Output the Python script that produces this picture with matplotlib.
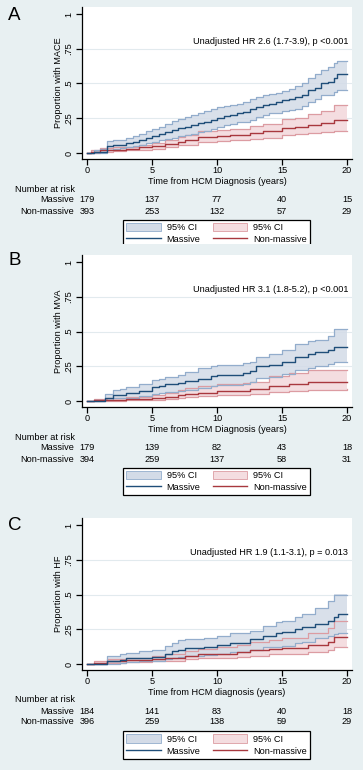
import matplotlib
matplotlib.use("Agg")
import matplotlib.pyplot as plt
from matplotlib.patches import Patch, Rectangle
from matplotlib.lines import Line2D
from matplotlib.transforms import blended_transform_factory
import numpy as np

plt.rcParams['font.family'] = ['Liberation Sans', 'DejaVu Sans']

# ---------------- DATA ----------------
panel_letters = ["A", "B", "C"]
y_labels = ["Proportion with MACE", "Proportion with MVA", "Proportion with HF"]
x_labels = ["Time from HCM Diagnosis (years)", "Time from HCM Diagnosis (years)",
            "Time from HCM diagnosis (years)"]
hr_texts = ["Unadjusted HR 2.6 (1.7-3.9), p <0.001",
            "Unadjusted HR 3.1 (1.8-5.2), p <0.001",
            "Unadjusted HR 1.9 (1.1-3.1), p = 0.013"]
risk_times = [0, 5, 10, 15, 20]
risk_massive = [[179, 137, 77, 40, 15], [179, 139, 82, 43, 18], [184, 141, 83, 40, 18]]
risk_nonmassive = [[393, 253, 132, 57, 29], [394, 259, 137, 58, 31], [396, 259, 138, 59, 29]]
group_names = ["Massive", "Non-massive"]

# Panel A (MACE)
a_mas_t  = [0, 0.5, 1.0, 1.5, 2.0, 2.5, 3.0, 3.5, 4.0, 4.5, 5.0, 5.5, 6.0, 6.5, 7.0, 7.5, 8.0, 8.5, 9.0, 9.5,
            10.0, 10.5, 11.0, 11.5, 12.0, 12.5, 13.0, 13.5, 14.0, 14.5, 15.0, 15.5, 16.0, 16.5, 17.0, 17.5,
            18.0, 18.5, 19.0, 19.2, 20.0]
a_mas_e  = [0, 0.005, 0.01, 0.05, 0.055, 0.06, 0.07, 0.08, 0.095, 0.11, 0.12, 0.135, 0.15, 0.165, 0.18, 0.19,
            0.205, 0.215, 0.225, 0.24, 0.255, 0.265, 0.275, 0.285, 0.295, 0.315, 0.33, 0.345, 0.355, 0.365,
            0.38, 0.39, 0.405, 0.42, 0.45, 0.47, 0.50, 0.51, 0.54, 0.565, 0.565]
a_mas_lo = [0, 0, 0, 0.025, 0.03, 0.035, 0.04, 0.05, 0.06, 0.07, 0.08, 0.09, 0.10, 0.11, 0.12, 0.13,
            0.14, 0.15, 0.16, 0.175, 0.19, 0.2, 0.21, 0.22, 0.225, 0.24, 0.26, 0.275, 0.285, 0.29,
            0.30, 0.31, 0.32, 0.335, 0.37, 0.39, 0.415, 0.42, 0.44, 0.455, 0.455]
a_mas_hi = [0, 0.02, 0.03, 0.085, 0.09, 0.095, 0.11, 0.125, 0.14, 0.16, 0.175, 0.19, 0.21, 0.23, 0.245, 0.26,
            0.27, 0.285, 0.30, 0.315, 0.33, 0.34, 0.345, 0.355, 0.37, 0.385, 0.40, 0.415, 0.425, 0.435,
            0.445, 0.46, 0.48, 0.50, 0.54, 0.57, 0.60, 0.62, 0.65, 0.665, 0.665]
a_non_t  = [0, 0.3, 1.0, 2.0, 3.0, 4.0, 5.0, 6.0, 7.0, 7.5, 8.5, 10.0, 11.0, 12.5, 13.5, 15.0, 16.0, 17.0,
            18.0, 19.0, 20.0]
a_non_e  = [0, 0.01, 0.02, 0.025, 0.03, 0.04, 0.05, 0.065, 0.08, 0.09, 0.115, 0.12, 0.13, 0.145, 0.155,
            0.18, 0.185, 0.20, 0.215, 0.237, 0.237]
a_non_lo = [0, 0.0, 0.01, 0.015, 0.02, 0.025, 0.03, 0.04, 0.055, 0.06, 0.08, 0.085, 0.09, 0.10, 0.11,
            0.13, 0.135, 0.145, 0.15, 0.16, 0.16]
a_non_hi = [0, 0.02, 0.035, 0.04, 0.045, 0.06, 0.075, 0.09, 0.115, 0.13, 0.16, 0.165, 0.175, 0.195, 0.21,
            0.245, 0.255, 0.28, 0.30, 0.345, 0.345]

# Panel B (MVA)
b_mas_t  = [0, 0.5, 1.4, 2.0, 2.5, 3.0, 4.0, 5.0, 5.5, 6.0, 7.0, 7.5, 8.5, 9.5, 10.0, 12.0, 12.5, 13.0,
            14.0, 15.0, 16.0, 17.0, 17.5, 18.5, 19.0, 20.0]
b_mas_e  = [0, 0.0, 0.02, 0.04, 0.045, 0.055, 0.07, 0.10, 0.11, 0.12, 0.13, 0.145, 0.16, 0.18, 0.19, 0.20,
            0.215, 0.25, 0.26, 0.28, 0.32, 0.335, 0.35, 0.37, 0.39, 0.39]
b_mas_lo = [0, 0, 0.005, 0.02, 0.02, 0.025, 0.035, 0.05, 0.06, 0.065, 0.075, 0.08, 0.095, 0.11, 0.115, 0.125,
            0.135, 0.165, 0.175, 0.195, 0.22, 0.235, 0.25, 0.265, 0.28, 0.28]
b_mas_hi = [0, 0.01, 0.05, 0.08, 0.085, 0.10, 0.125, 0.15, 0.16, 0.17, 0.19, 0.21, 0.235, 0.25, 0.26, 0.27,
            0.28, 0.32, 0.335, 0.37, 0.41, 0.43, 0.44, 0.47, 0.52, 0.52]
b_non_t  = [0, 0.5, 1.5, 3.0, 5.0, 6.0, 7.0, 7.5, 8.5, 10.0, 12.0, 12.5, 14.0, 15.5, 17.0, 20.0]
b_non_e  = [0, 0.005, 0.01, 0.015, 0.02, 0.03, 0.04, 0.05, 0.06, 0.07, 0.075, 0.085, 0.11, 0.12, 0.135, 0.14]
b_non_lo = [0, 0, 0.002, 0.005, 0.01, 0.015, 0.02, 0.03, 0.035, 0.04, 0.045, 0.05, 0.065, 0.07, 0.08, 0.085]
b_non_hi = [0, 0.015, 0.02, 0.03, 0.04, 0.06, 0.08, 0.09, 0.105, 0.12, 0.13, 0.14, 0.18, 0.20, 0.22, 0.22]

# Panel C (HF)
c_mas_t  = [0, 1.5, 2.5, 3.0, 4.0, 5.0, 6.0, 6.5, 7.0, 7.5, 9.0, 10.0, 11.0, 12.5, 13.5, 14.5, 15.0, 16.0,
            16.5, 17.5, 18.5, 19.0, 19.3, 20.0]
c_mas_e  = [0, 0.02, 0.03, 0.04, 0.045, 0.05, 0.07, 0.09, 0.10, 0.117, 0.125, 0.135, 0.15, 0.18, 0.205, 0.22,
            0.23, 0.25, 0.265, 0.29, 0.31, 0.34, 0.36, 0.36]
c_mas_lo = [0, 0.003, 0.008, 0.015, 0.018, 0.02, 0.035, 0.045, 0.05, 0.06, 0.065, 0.07, 0.085, 0.10, 0.12,
            0.125, 0.13, 0.15, 0.16, 0.19, 0.20, 0.215, 0.225, 0.225]
c_mas_hi = [0, 0.06, 0.07, 0.08, 0.09, 0.10, 0.13, 0.15, 0.17, 0.18, 0.19, 0.20, 0.22, 0.24, 0.27, 0.30,
            0.31, 0.34, 0.36, 0.40, 0.45, 0.50, 0.50, 0.50]
c_non_t  = [0, 0.5, 1.5, 3.0, 5.0, 6.0, 7.5, 8.5, 10.0, 11.5, 12.5, 14.0, 15.0, 17.0, 18.5, 19.0, 20.0]
c_non_e  = [0, 0.01, 0.02, 0.03, 0.035, 0.045, 0.06, 0.07, 0.075, 0.085, 0.10, 0.11, 0.117, 0.134, 0.16,
            0.195, 0.195]
c_non_lo = [0, 0.0, 0.008, 0.015, 0.02, 0.025, 0.035, 0.04, 0.045, 0.05, 0.06, 0.07, 0.075, 0.085, 0.10,
            0.12, 0.125]
c_non_hi = [0, 0.02, 0.035, 0.045, 0.06, 0.075, 0.09, 0.11, 0.12, 0.135, 0.16, 0.175, 0.19, 0.22, 0.26,
            0.31, 0.31]

panels = [
    ((a_mas_t, a_mas_e, a_mas_lo, a_mas_hi), (a_non_t, a_non_e, a_non_lo, a_non_hi)),
    ((b_mas_t, b_mas_e, b_mas_lo, b_mas_hi), (b_non_t, b_non_e, b_non_lo, b_non_hi)),
    ((c_mas_t, c_mas_e, c_mas_lo, c_mas_hi), (c_non_t, c_non_e, c_non_lo, c_non_hi)),
]

# ---------------- STYLE ----------------
W, H = 363, 770
BG = '#e8f0f2'
BLUE = '#1f4e79'
BLUE_FILL = '#d3dbe7'
BLUE_EDGE = '#93adcc'
RED = '#a8383e'
RED_FILL = '#f4dde0'
RED_EDGE = '#dc9ca2'
FS = 6.6

fig = plt.figure(figsize=(W / 100, H / 100), dpi=100, facecolor=BG)

ax_left, ax_right = 82, 352
ax_tops = [7, 255, 518]
ax_bottoms = [159, 407, 670]
legend_centers = [233.5, 481.5, 745]
letter_y = [15, 261, 525]


def fy(py):
    return 1 - py / H


def fx(px):
    return px / W


for i in range(3):
    top, bot = ax_tops[i], ax_bottoms[i]
    ax = fig.add_axes([fx(ax_left), fy(bot), fx(ax_right) - fx(ax_left), (bot - top) / H])
    ax.set_facecolor('white')
    y0_px = bot - 6
    y1_px = top + 7
    ppu = y0_px - y1_px
    ax.set_ylim(-(bot - y0_px) / ppu, 1 + (y1_px - top) / ppu)
    ax.set_xlim(-5 / 13.0, 20 + 5 / 13.0)

    for sp in ['top', 'right']:
        ax.spines[sp].set_visible(False)
    for sp in ['left', 'bottom']:
        ax.spines[sp].set_color('black')
        ax.spines[sp].set_linewidth(0.9)

    ax.set_yticks([0, 0.25, 0.5, 0.75, 1])
    ax.set_yticklabels(['0', '.25', '.5', '.75', '1'], rotation=90, va='center')
    ax.set_xticks(risk_times)
    ax.tick_params(axis='both', length=4, width=0.9, labelsize=FS, color='black')
    ax.tick_params(axis='x', pad=1)
    ax.tick_params(axis='y', pad=2.2)
    for g in [0.25, 0.5, 0.75]:
        ax.axhline(g, color='#e2eaee', lw=0.8, zorder=0)

    ax.set_xlabel(x_labels[i], fontsize=FS, labelpad=1.2)
    ax.set_ylabel(y_labels[i], fontsize=FS, labelpad=1)

    (mt, me, mlo, mhi), (nt, ne, nlo, nhi) = panels[i]
    ax.fill_between(nt, nlo, nhi, step='post', color=RED_FILL, lw=0, zorder=1)
    ax.fill_between(mt, mlo, mhi, step='post', color=BLUE_FILL, lw=0, zorder=1, alpha=0.85)
    ax.step(nt, nlo, where='post', color=RED_EDGE, lw=0.9, zorder=2)
    ax.step(nt, nhi, where='post', color=RED_EDGE, lw=0.9, zorder=2)
    ax.step(mt, mlo, where='post', color=BLUE_EDGE, lw=0.9, zorder=2)
    ax.step(mt, mhi, where='post', color=BLUE_EDGE, lw=0.9, zorder=2)
    ax.step(nt, ne, where='post', color=RED, lw=1.0, zorder=3)
    ax.step(mt, me, where='post', color=BLUE, lw=1.0, zorder=3)

    ax.text(20.1, 0.8, hr_texts[i], ha='right', va='center', fontsize=FS)

    fig.text(fx(8), fy(letter_y[i]), panel_letters[i], fontsize=13.5, ha='left', va='center')

    tr = blended_transform_factory(ax.transData, fig.transFigure)
    fig.text(fx(15), fy(bot + 30), "Number at risk", fontsize=FS, ha='left', va='center')
    fig.text(fx(74), fy(bot + 41), group_names[0], fontsize=FS, ha='right', va='center')
    fig.text(fx(74), fy(bot + 52), group_names[1], fontsize=FS, ha='right', va='center')
    for t, m, n in zip(risk_times, risk_massive[i], risk_nonmassive[i]):
        ax.text(t, fy(bot + 41), str(m), transform=tr, fontsize=FS, ha='center', va='center', clip_on=False)
        ax.text(t, fy(bot + 52), str(n), transform=tr, fontsize=FS, ha='center', va='center', clip_on=False)

    handles = [Patch(facecolor=BLUE_FILL, edgecolor=BLUE_EDGE, lw=0.6),
               Line2D([], [], color=BLUE, lw=1.0),
               Patch(facecolor=RED_FILL, edgecolor=RED_EDGE, lw=0.6),
               Line2D([], [], color=RED, lw=1.0)]
    labels = ["95% CI", group_names[0], "95% CI", group_names[1]]
    leg = fig.legend(handles, labels, ncol=2, loc='center',
                     bbox_to_anchor=(fx(216.5), fy(legend_centers[i])),
                     fontsize=FS, frameon=True, fancybox=False, edgecolor='black',
                     facecolor='white', framealpha=1, handlelength=3.8, handleheight=1.0,
                     handletextpad=0.6, columnspacing=1.3, borderpad=0.35, labelspacing=0.3,
                     borderaxespad=0)
    leg.get_frame().set_linewidth(0.9)

fig.patches.append(Rectangle((0, fy(250)), 1, (250 - 244) / H, transform=fig.transFigure,
                             facecolor=BG, edgecolor='none', zorder=10))

fig.savefig('out.png', dpi=100, facecolor=BG)
